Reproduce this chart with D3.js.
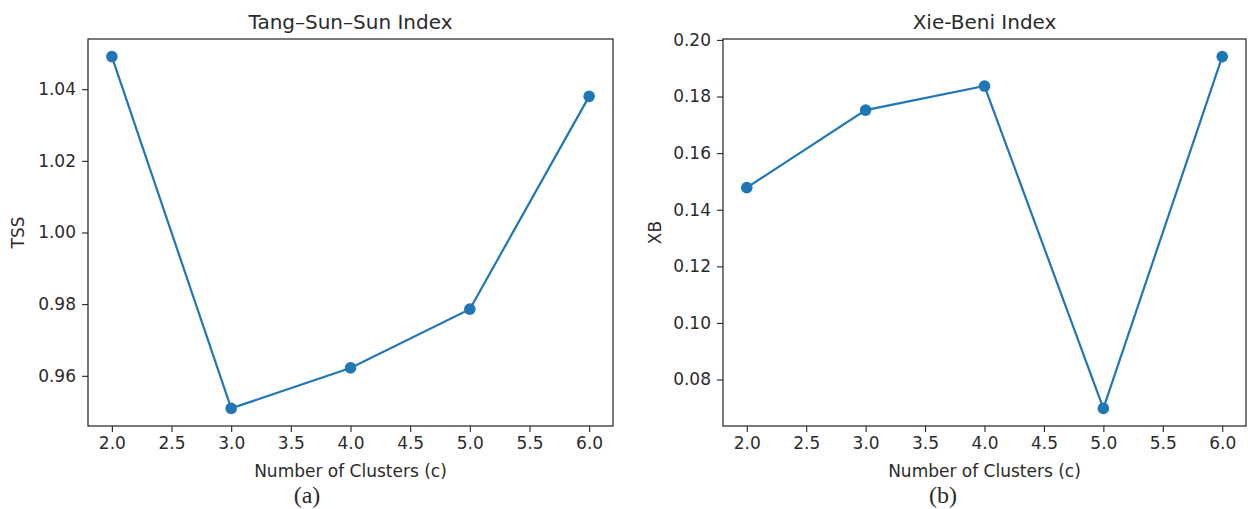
<!DOCTYPE html>
<html>
<head>
<meta charset="utf-8">
<script src="https://cdn.jsdelivr.net/npm/d3@7"></script>
<style>
  html, body { margin: 0; padding: 0; background: #fff; }
  svg { display: block; }
  text { font-family: "DejaVu Sans", sans-serif; fill: #2b2b2b; }
</style>
</head>
<body>
<svg id="chart" width="1248" height="509"></svg>
<script>
// ---- data ----
const clusters = [2, 3, 4, 5, 6];
const tssValues = [1.0491, 0.9509, 0.9622, 0.9786, 1.0380];
const xbValues = [0.1478, 0.1752, 0.1837, 0.0698, 0.1941];
const xTickValues = [2.0, 2.5, 3.0, 3.5, 4.0, 4.5, 5.0, 5.5, 6.0];
const tssTickValues = [0.96, 0.98, 1.00, 1.02, 1.04];
const xbTickValues = [0.08, 0.10, 0.12, 0.14, 0.16, 0.18, 0.20];
const titles = ["Tang\u2013Sun\u2013Sun Index", "Xie-Beni Index"];
const yLabels = ["TSS", "XB"];
const xLabel = "Number of Clusters (c)";
const captions = ["(a)", "(b)"];

const svg = d3.select("#chart");
const color = "#1f77b4";

function pad(ext) {
  const r = ext[1] - ext[0];
  return [ext[0] - 0.05 * r, ext[1] + 0.05 * r];
}

function drawPanel(opt) {
  const { left, right, top, bottom, values, yTicks, title, yLabel, caption, yLabelX } = opt;
  const g = svg.append("g");
  const x = d3.scaleLinear().domain(pad(d3.extent(clusters))).range([left, right]);
  const y = d3.scaleLinear().domain(pad(d3.extent(values))).range([bottom, top]);

  // x axis
  const xa = g.append("g").attr("transform", `translate(0,${bottom})`)
    .call(d3.axisBottom(x).tickValues(xTickValues).tickFormat(d3.format(".1f")).tickSizeOuter(0).tickSize(6).tickPadding(5));
  xa.select(".domain").remove();
  xa.selectAll("line").attr("stroke", "#222").attr("stroke-width", 1.1);
  xa.selectAll("text").style("font-size", "17px").attr("fill", "#2b2b2b")
    .style("font-family", '"DejaVu Sans", sans-serif');

  // y axis
  const ya = g.append("g").attr("transform", `translate(${left},0)`)
    .call(d3.axisLeft(y).tickValues(yTicks).tickFormat(d3.format(".2f")).tickSizeOuter(0).tickSize(6).tickPadding(6));
  ya.select(".domain").remove();
  ya.selectAll("line").attr("stroke", "#222").attr("stroke-width", 1.1);
  ya.selectAll("text").style("font-size", "17px").attr("fill", "#2b2b2b")
    .style("font-family", '"DejaVu Sans", sans-serif');

  // frame
  g.append("rect").attr("x", left).attr("y", top)
    .attr("width", right - left).attr("height", bottom - top)
    .attr("fill", "none").attr("stroke", "#222").attr("stroke-width", 1.2);

  // line
  const line = d3.line().x((d, i) => x(clusters[i])).y(d => y(d));
  g.append("path").datum(values).attr("d", line)
    .attr("fill", "none").attr("stroke", color).attr("stroke-width", 2.2);
  g.selectAll("circle.pt").data(values).enter().append("circle")
    .attr("class", "pt")
    .attr("cx", (d, i) => x(clusters[i])).attr("cy", d => y(d))
    .attr("r", 5.8).attr("fill", color);

  // title
  g.append("text").attr("x", (left + right) / 2).attr("y", 29)
    .attr("text-anchor", "middle").style("font-size", "20px").text(title);
  // x label
  g.append("text").attr("x", (left + right) / 2).attr("y", 477)
    .attr("text-anchor", "middle").style("font-size", "17px").text(xLabel);
  // y label
  g.append("text").attr("transform", `translate(${yLabelX},${(top + bottom) / 2}) rotate(-90)`)
    .attr("text-anchor", "middle").style("font-size", "17px").text(yLabel);
  // caption
  g.append("text").attr("x", opt.captionX).attr("y", 503)
    .attr("text-anchor", "middle")
    .style("font-family", '"Liberation Serif", "Times New Roman", serif')
    .style("font-size", "24px").attr("fill", "#000").text(caption);
}

drawPanel({ left: 88, right: 613, top: 39, bottom: 426, values: tssValues, yTicks: tssTickValues,
  title: titles[0], yLabel: yLabels[0], caption: captions[0], yLabelX: 24, captionX: 307 });
drawPanel({ left: 723, right: 1246, top: 39, bottom: 426, values: xbValues, yTicks: xbTickValues,
  title: titles[1], yLabel: yLabels[1], caption: captions[1], yLabelX: 661, captionX: 943 });
</script>
</body>
</html>
